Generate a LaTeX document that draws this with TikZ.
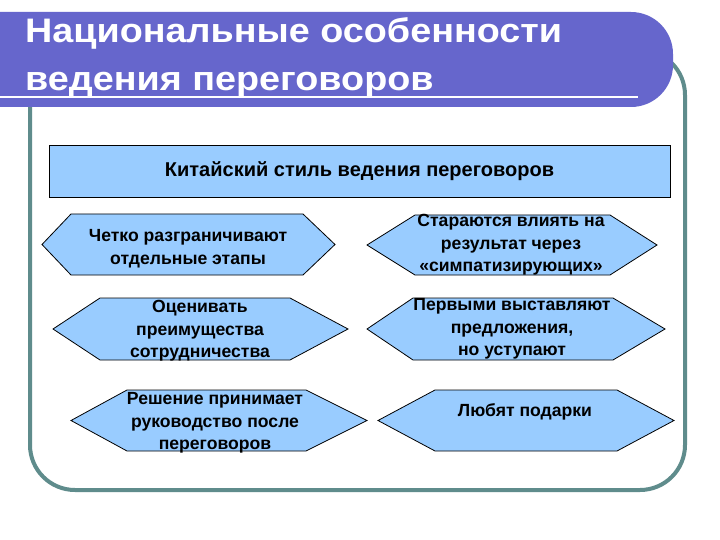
\documentclass[tikz,border=0pt]{standalone}
\usepackage{fontspec}
\setmainfont{Liberation Sans}
\definecolor{titleblue}{RGB}{102,102,204}
\definecolor{framecol}{RGB}{95,140,140}
\definecolor{boxfill}{RGB}{153,204,255}
\tikzset{
  hexshape/.style={draw=black,fill=boxfill,line width=0.8pt,line join=miter},
  hextext/.style={align=center,inner sep=0pt,font=\fontsize{17.6}{22.5}\selectfont\bfseries},
  titletext/.style={anchor=base west,inner sep=0pt,text=white,font=\fontsize{34}{40}\selectfont\bfseries}
}
\newcommand\hexnode[9]{%
  \draw[hexshape] (#2,{(#6+#7)/2}) -- (#3,#6) -- (#4,#6) -- (#5,{(#6+#7)/2}) -- (#4,#7) -- (#3,#7) -- cycle;
  \node[hextext] (#1) at (#8) {#9};}
\begin{document}
\begin{tikzpicture}[x=1pt,y=-1pt]
\useasboundingbox (0,0) rectangle (720,540);
\fill[white] (0,0) rectangle (720,540);
% frame
\draw[framecol,line width=4pt,rounded corners=45pt] (30,50) rectangle (685,490);
% title bar
\fill[titleblue,rounded corners=42pt] (-60,12) rectangle (673,107);
\draw[white,line width=2pt] (-2,97) -- (638,97);
\node[titletext] (t1) at (25,43) {\scalebox{1.11}[1]{Национальные особенности}};
\node[titletext] (t2) at (25,91) {\scalebox{1.11}[1]{ведения переговоров}};
% header box
\node[draw=black,fill=boxfill,line width=0.8pt,minimum width=621pt,minimum height=52pt,inner sep=0pt,
  font=\fontsize{20}{24}\selectfont\bfseries] (head) at (359.5,171) {Китайский стиль ведения переговоров};
% hexagons
\hexnode{h1}{42}{71}{303}{335}{214}{275}{188,248.5}{Четко разграничивают\\отдельные этапы}
\hexnode{h2}{53}{100}{290}{348}{298}{360}{200,331}{Оценивать\\преимущества\\сотрудничества}
\hexnode{h3}{71}{127}{306}{367}{390}{451}{215,423}{Решение принимает\\руководство после\\переговоров}
\hexnode{h4}{367}{415}{610}{657}{215}{275}{511,245}{Стараются влиять на\\результат через\\«симпатизирующих»}
\hexnode{h5}{367}{413}{613}{665}{298}{360}{512,329}{Первыми выставляют\\предложения,\\но уступают}
\hexnode{h6}{378}{435}{617}{674}{390}{451}{525,412}{Любят подарки}
\end{tikzpicture}
\end{document}
